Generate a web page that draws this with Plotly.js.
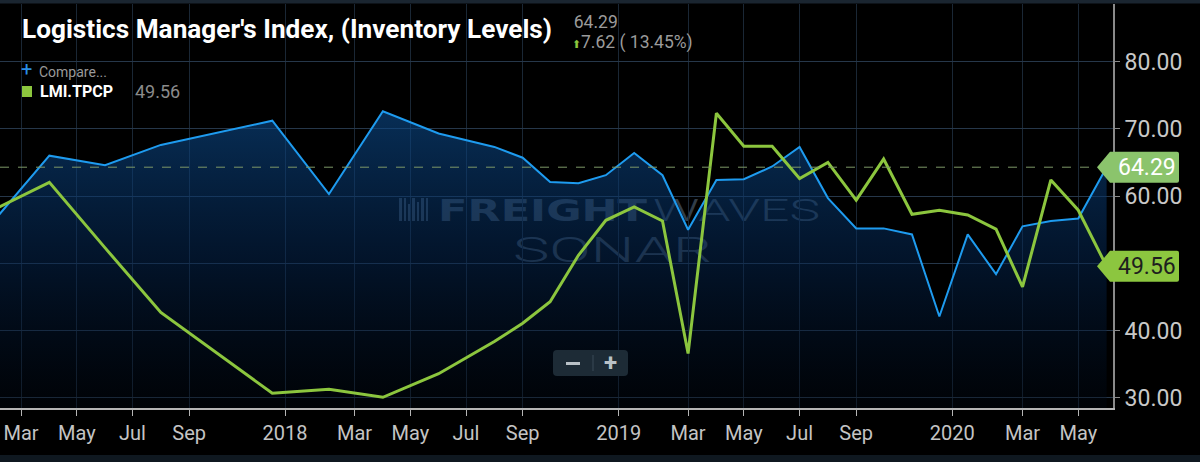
<!DOCTYPE html>
<html>
<head>
<meta charset="utf-8">
<script src="https://cdn.plot.ly/plotly-3.0.1.min.js"></script>
<style>
  html, body { margin: 0; padding: 0; background: #000; }
  #chart { width: 1200px; height: 462px; }
</style>
</head>
<body>
<div id="chart"></div>
<script>
// ---- Data ----
const months = ['2017-02-01','2017-04-01','2017-06-01','2017-08-01','2017-12-01',
  '2018-02-01','2018-04-01','2018-06-01','2018-08-01','2018-09-01','2018-10-01','2018-11-01','2018-12-01',
  '2019-01-01','2019-02-01','2019-03-01','2019-04-01','2019-05-01','2019-06-01','2019-07-01','2019-08-01',
  '2019-09-01','2019-10-01','2019-11-01','2019-12-01','2020-01-01','2020-02-01','2020-03-01','2020-04-01',
  '2020-05-01','2020-06-01'];
const inventoryLevels = [56.6, 66.0, 64.6, 67.6, 71.2,
  60.3, 72.6, 69.3, 67.3, 65.7, 62.1, 61.9, 63.1,
  66.4, 63.1, 55.0, 62.4, 62.5, 64.4, 67.3, 59.7,
  55.2, 55.2, 54.3, 42.1, 54.3, 48.4, 55.5, 56.3,
  56.67, 64.29];
const transportPrices = [58.1, 62.05, 52.3, 42.7, 30.7,
  31.3, 30.1, 33.6, 38.4, 41.1, 44.3, 51.2, 56.4,
  58.4, 56.3, 36.6, 72.3, 67.4, 67.4, 62.6, 65.0,
  59.4, 65.5, 57.3, 57.9, 57.2, 55.1, 46.5, 62.4,
  57.9, 49.56];
const tickDates = ['2017-03-01','2017-05-01','2017-07-01','2017-09-01','2017-12-15',
  '2018-03-01','2018-05-01','2018-07-01','2018-09-01','2018-12-15',
  '2019-03-01','2019-05-01','2019-07-01','2019-09-01','2019-12-15',
  '2020-03-01','2020-05-01'];
const tickLabels = ['Mar','May','Jul','Sep','2018','Mar','May','Jul','Sep','2019',
  'Mar','May','Jul','Sep','2020','Mar','May'];
const yTickVals = [30, 40, 50, 60, 70, 80];
const yTickLabels = ['30.00', '40.00', '', '60.00', '70.00', '80.00']; // 50.00 sits under the 49.56 tag
const titleText = "Logistics Manager's Index, (Inventory Levels)";
const compareSymbol = 'LMI.TPCP';

// ---- Derived header values ----
const lastInv = inventoryLevels[inventoryLevels.length - 1];
const prevInv = inventoryLevels[inventoryLevels.length - 2];
const change = lastInv - prevInv;
const pct = change / prevInv * 100;
const lastTp = transportPrices[transportPrices.length - 1];

// ---- Geometry helpers (plot area: x 0..1113 px, y 4..408 px) ----
const PW = 1113, PT = 4, PB = 408;
const px = X => X / PW;
const py = Y => (PB - Y) / (PB - PT);

const BLUE = '#1e9bef';
const GREEN = '#8cc63e';

const watermarkSvg =
  "<svg xmlns='http://www.w3.org/2000/svg' width='430' height='75' viewBox='0 0 430 75'>" +
  "<g fill='#8fb0d0'>" +
  "<rect x='4' y='8' width='3' height='23'/><rect x='9' y='8' width='2' height='23'/>" +
  "<rect x='13' y='14' width='2' height='17'/><rect x='17' y='8' width='3' height='23'/>" +
  "<rect x='22' y='12' width='2' height='19'/><rect x='26' y='8' width='3' height='23'/>" +
  "<rect x='31' y='8' width='2' height='23'/></g>" +
  "<text x='43' y='31' font-family='DejaVu Sans' font-weight='bold' font-size='31' textLength='209' lengthAdjust='spacingAndGlyphs' fill='#8fb0d0'>FREIGHT</text>" +
  "<text x='258' y='31' font-family='Roboto' font-weight='300' font-size='32' textLength='167' lengthAdjust='spacingAndGlyphs' fill='#8fb0d0'>WAVES</text>" +
  "<text x='118' y='72' font-family='Roboto' font-weight='300' font-size='35' textLength='199' lengthAdjust='spacingAndGlyphs' fill='#8fb0d0'>SONAR</text>" +
  "</svg>";

const traces = [
  {
    x: months, y: inventoryLevels, type: 'scatter', mode: 'lines',
    line: { color: BLUE, width: 2 },
    fill: 'tozeroy',
    fillgradient: {
      type: 'vertical', start: 28.5, stop: 73,
      colorscale: [[0, 'rgba(0,8,20,0.35)'], [0.5, 'rgba(5,40,85,0.5)'], [1, 'rgba(12,75,140,0.62)']]
    },
    hoverinfo: 'skip', showlegend: false
  },
  {
    x: months, y: transportPrices, type: 'scatter', mode: 'lines',
    line: { color: GREEN, width: 3 },
    hoverinfo: 'skip', showlegend: false
  }
];

function tagPath() {
  return 'M -16,0 L -3,15.5 L 64,15.5 Q 66,15.5 66,13.5 L 66,-13.5 Q 66,-15.5 64,-15.5 L -3,-15.5 Z';
}

const shapes = [
  // top band
  { type: 'rect', xref: 'paper', yref: 'paper', x0: -0.01, x1: 1.1, y0: py(3.5), y1: py(-1),
    fillcolor: '#1a2530', line: { width: 0 }, layer: 'above' },
  // bottom band
  { type: 'rect', xref: 'paper', yref: 'paper', x0: -0.01, x1: 1.1, y0: py(463), y1: py(455),
    fillcolor: '#0f1820', line: { width: 0 }, layer: 'above' },
  // last value dashed line
  { type: 'line', xref: 'paper', yref: 'y', x0: 0, x1: 1, y0: lastInv, y1: lastInv,
    line: { color: '#7d9968', width: 1, dash: 'dash' }, layer: 'above' },
  // value tags
  { type: 'path', xref: 'paper', yref: 'y', xsizemode: 'pixel', ysizemode: 'pixel',
    xanchor: 1, yanchor: lastInv, path: tagPath(), fillcolor: '#8bc46c', line: { width: 0 }, layer: 'above' },
  { type: 'path', xref: 'paper', yref: 'y', xsizemode: 'pixel', ysizemode: 'pixel',
    xanchor: 1, yanchor: lastTp, path: tagPath(), fillcolor: '#8cc63f', line: { width: 0 }, layer: 'above' },
  // legend swatch
  { type: 'rect', xref: 'paper', yref: 'paper', x0: px(22), x1: px(32), y0: py(97), y1: py(86),
    fillcolor: GREEN, line: { width: 0 }, layer: 'above' },
  // zoom control
  { type: 'path', xref: 'paper', yref: 'paper', xsizemode: 'pixel', ysizemode: 'pixel',
    xanchor: px(590.5), yanchor: py(363),
    path: 'M -33.5,-13 L 33.5,-13 Q 37.5,-13 37.5,-9 L 37.5,9 Q 37.5,13 33.5,13 L -33.5,13 Q -37.5,13 -37.5,9 L -37.5,-9 Q -37.5,-13 -33.5,-13 Z',
    fillcolor: '#1d2b36', line: { width: 0 }, layer: 'above' },
  { type: 'line', xref: 'paper', yref: 'paper', x0: px(593), x1: px(593), y0: py(355), y1: py(371),
    line: { color: '#3a4b57', width: 1 }, layer: 'above' },
  // minus bar of zoom control
  { type: 'line', xref: 'paper', yref: 'paper', x0: px(566), x1: px(580), y0: py(363.5), y1: py(363.5),
    line: { color: '#b9c1c7', width: 3 }, layer: 'above' }
];

const headerText =
  "<span style='font-size:17.5px'>&#8202;" + lastInv.toFixed(2) + "</span><br>" +
  "<span style='font-size:17.5px'><span style='color:" + GREEN + ";font-size:11px'>⬆</span>" +
  change.toFixed(2) + ' ( ' + pct.toFixed(2) + '%)</span>';

const annotations = [
  { text: '<b>' + titleText + '</b>', xref: 'paper', yref: 'paper', x: px(21), y: py(29),
    xanchor: 'left', yanchor: 'middle', showarrow: false, borderpad: 0,
    font: { family: 'Roboto', size: 26.2, color: '#ffffff' } },
  { text: headerText, xref: 'paper', yref: 'paper', x: px(571), y: py(33),
    xanchor: 'left', yanchor: 'middle', align: 'left', showarrow: false, borderpad: 0,
    font: { family: 'Roboto', size: 15.6, color: '#9b9b9b' } },
  { text: '+', xref: 'paper', yref: 'paper', x: px(20), y: py(69),
    xanchor: 'left', yanchor: 'middle', showarrow: false, borderpad: 0,
    font: { family: 'Roboto', size: 20, color: '#2a8ee6' } },
  { text: 'Compare...', xref: 'paper', yref: 'paper', x: px(38), y: py(72),
    xanchor: 'left', yanchor: 'middle', showarrow: false, borderpad: 0,
    font: { family: 'Roboto', size: 14, color: '#9a9a9a' } },
  { text: '<b>' + compareSymbol + '</b>', xref: 'paper', yref: 'paper', x: px(39), y: py(92),
    xanchor: 'left', yanchor: 'middle', showarrow: false, borderpad: 0,
    font: { family: 'Roboto', size: 16, color: '#ffffff' } },
  { text: lastTp.toFixed(2), xref: 'paper', yref: 'paper', x: px(134), y: py(92),
    xanchor: 'left', yanchor: 'middle', showarrow: false, borderpad: 0,
    font: { family: 'Roboto', size: 18, color: '#8b8b8b' } },
  { text: lastInv.toFixed(2), xref: 'paper', yref: 'y', x: px(1147), y: lastInv,
    xanchor: 'center', yanchor: 'middle', showarrow: false, borderpad: 0,
    font: { family: 'Roboto', size: 23, color: '#ffffff' } },
  { text: lastTp.toFixed(2), xref: 'paper', yref: 'y', x: px(1147), y: lastTp,
    xanchor: 'center', yanchor: 'middle', showarrow: false, borderpad: 0,
    font: { family: 'Roboto', size: 23, color: '#1e1e1e' } },
  { text: '<b>+</b>', xref: 'paper', yref: 'paper', x: px(610), y: py(363),
    xanchor: 'center', yanchor: 'middle', showarrow: false, borderpad: 0,
    font: { family: 'Roboto', size: 24, color: '#b9c1c7' } }
];

const layout = {
  width: 1200, height: 462,
  margin: { l: 0, r: 87, t: PT, b: 462 - PB, pad: 0 },
  paper_bgcolor: '#000000', plot_bgcolor: '#000000',
  showlegend: false,
  font: { family: 'Roboto', color: '#c4c4c4' },
  xaxis: {
    type: 'date', range: ['2017-02-06', '2020-06-08'],
    tickmode: 'array', tickvals: tickDates, ticktext: tickLabels,
    showgrid: true, gridcolor: '#1a2735', gridwidth: 1,
    showline: true, linecolor: '#b5b5b5', linewidth: 2,
    ticks: 'outside', ticklen: 6, tickcolor: '#b5b5b5', tickwidth: 1,
    tickfont: { family: 'Roboto', size: 20, color: '#c4c4c4' },
    zeroline: false, fixedrange: true
  },
  yaxis: {
    side: 'right', range: [28.51, 88.54],
    tickmode: 'array', tickvals: yTickVals, ticktext: yTickLabels,
    showgrid: true, gridcolor: '#26374a', gridwidth: 1,
    showline: true, linecolor: '#8a8a8a', linewidth: 2,
    ticks: 'outside', ticklen: 5, tickcolor: '#8a8a8a', tickwidth: 1,
    tickfont: { family: 'Roboto', size: 23, color: '#c8c8c8' },
    zeroline: false, fixedrange: true
  },
  images: [{
    source: 'data:image/svg+xml;charset=utf-8,' + encodeURIComponent(watermarkSvg),
    xref: 'paper', yref: 'paper', x: px(395), y: py(190),
    sizex: 430 / PW, sizey: 75 / (PB - PT), xanchor: 'left', yanchor: 'top',
    sizing: 'stretch', layer: 'below', opacity: 0.35
  }],
  shapes: shapes,
  annotations: annotations
};

Plotly.newPlot('chart', traces, layout, { staticPlot: true, displayModeBar: false });
</script>
</body>
</html>
